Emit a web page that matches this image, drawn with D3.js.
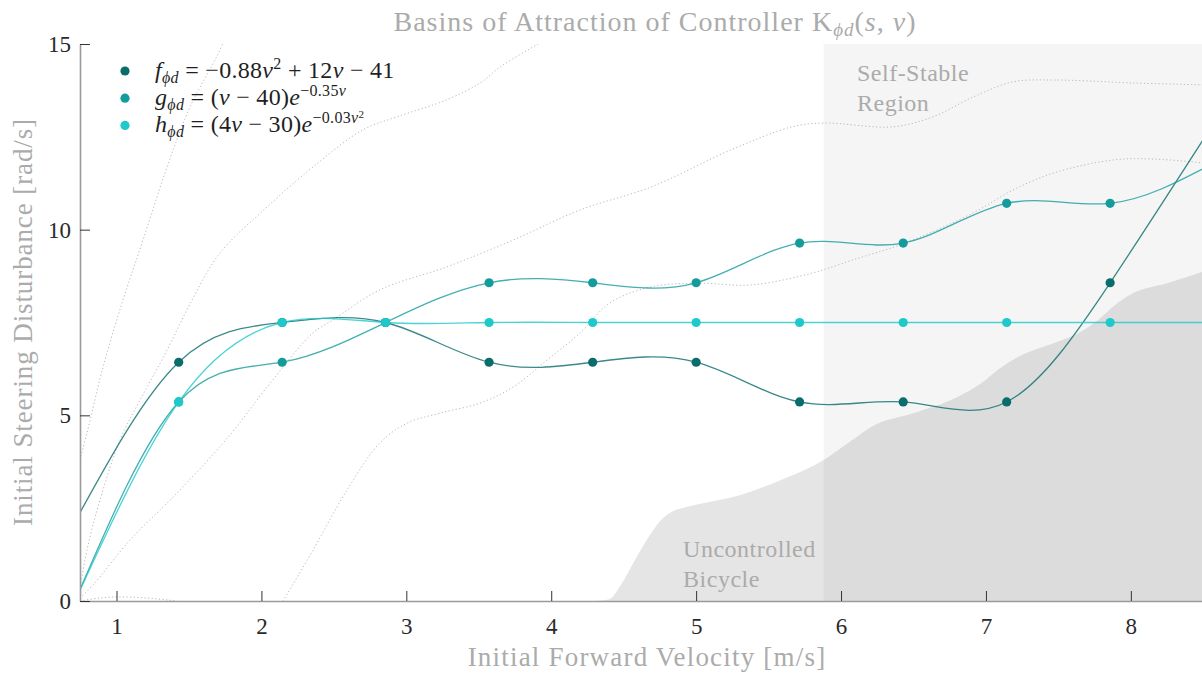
<!DOCTYPE html>
<html>
<head>
<meta charset="utf-8">
<script src="https://cdn.jsdelivr.net/npm/d3@7"></script>
<style>
  body { margin: 0; background: #fff; }
</style>
</head>
<body>
<div id="chart"></div>
<script>
var svgWidth = 1202;
var svgHeight = 673;
var serif = "Liberation Serif";

var margin = { top: 44, right: 0, bottom: 72, left: 80 };
var width = svgWidth - margin.left - margin.right;
var height = svgHeight - margin.top - margin.bottom;

// sample velocities (m/s) and the three controller curves
var velocity = [0.714, 1.429, 2.143, 2.857, 3.571, 4.286, 5.0, 5.714, 6.429, 7.143, 7.857, 8.571];
var fPhi = [2.14, 6.43, 7.50, 7.50, 6.43, 6.43, 6.43, 5.36, 5.36, 5.36, 8.57, 12.86];
var gPhi = [0.00, 5.36, 6.43, 7.50, 8.57, 8.57, 8.57, 9.64, 9.64, 10.71, 10.71, 11.79];
var hPhi = [0.00, 5.36, 7.50, 7.50, 7.50, 7.50, 7.50, 7.50, 7.50, 7.50, 7.50, 7.50];

var seriesColors = ["#0b6c6c", "#159b9b", "#1ec8cb"];

// legend text, split in pieces: [text, style]  (i = italic, sub, sup)
var legendLabels = [
  [["f", "i"], ["ϕd", "sub"], [" = −0.88", ""], ["v", "i"], ["2", "sup"], [" + 12", ""], ["v", "i"], [" − 41", ""]],
  [["g", "i"], ["ϕd", "sub"], [" = (", ""], ["v", "i"], [" − 40)", ""], ["e", "i"], ["−0.35", "sup"], ["v", "supi"]],
  [["h", "i"], ["ϕd", "sub"], [" = (4", ""], ["v", "i"], [" − 30)", ""], ["e", "i"], ["−0.03", "sup"], ["v", "supi"], ["2", "supsup"]]
];

// dotted basin boundaries
var boundA_v = [0.748, 0.796, 0.907, 1.045, 1.183, 1.349, 1.507, 1.735, 1.77];
var boundA_y = [3.80, 4.52, 6.30, 8.11, 9.72, 11.69, 13.30, 15.03, 15.6];
var boundB_v = [0.748, 0.796, 0.886, 1.024, 1.162, 1.349, 1.507, 1.714, 2.039, 2.356, 2.701, 2.936, 3.281, 3.509, 3.647, 3.923, 4.0];
var boundB_y = [0.30, 1.37, 2.72, 4.34, 5.41, 6.76, 8.0, 9.37, 10.61, 11.69, 12.69, 13.04, 13.50, 13.95, 14.38, 15.03, 15.2];
var boundC_v = [0.748, 0.838, 1.093, 1.438, 1.783, 2.039, 2.356, 2.494, 2.818, 3.281, 3.736, 4.199, 4.689, 5.241, 5.662, 5.883, 6.359, 6.635, 6.911, 7.187, 7.470, 8.022, 8.491];
var boundC_y = [0.08, 0.43, 1.64, 2.99, 4.47, 5.76, 7.22, 7.57, 8.38, 9.00, 9.72, 10.53, 11.15, 12.15, 12.77, 12.87, 12.77, 13.04, 13.57, 13.98, 14.03, 13.95, 13.90];
var boundD_v = [2.149, 2.356, 2.591, 2.818, 3.005, 3.233, 3.509, 3.736, 3.971, 4.199, 4.406, 4.689, 5.020, 5.379, 5.800, 6.076, 6.442, 6.911, 7.187, 7.470, 7.884, 8.167, 8.491];
var boundD_y = [0.00, 1.37, 2.99, 4.26, 4.79, 5.06, 5.33, 5.76, 6.49, 7.22, 8.03, 8.46, 8.56, 8.51, 8.83, 9.18, 9.64, 10.45, 11.07, 11.53, 11.88, 11.90, 11.80];
var boundE_v = [0.748, 0.886, 1.024, 1.210, 1.418];
var boundE_y = [0.00, 0.08, 0.11, 0.08, 0.00];

// uncontrolled bicycle region edge, and start of the self-stable region
var uncontrolled_v = [4.30, 4.40, 4.48, 4.57, 4.66, 4.75, 4.84, 4.92, 5.03, 5.30, 5.61, 5.88, 6.08, 6.21, 6.50, 6.80, 6.97, 7.08, 7.22, 7.47, 7.64, 7.75, 7.91, 8.02, 8.25, 8.49];
var uncontrolled_y = [0.00, 0.05, 0.43, 1.05, 1.65, 2.15, 2.42, 2.52, 2.62, 2.85, 3.30, 3.80, 4.34, 4.69, 5.06, 5.49, 5.87, 6.22, 6.57, 6.95, 7.22, 7.49, 8.03, 8.30, 8.56, 8.86];
var selfStableStart = 5.88;

var xTicks = [1, 2, 3, 4, 5, 6, 7, 8];
var yTicks = [0, 5, 10, 15];

var svg = d3.select("#chart")
  .append("svg")
  .attr("width", svgWidth)
  .attr("height", svgHeight);

var chartGroup = svg.append("g")
  .attr("transform", `translate(${margin.left}, ${margin.top})`);

var xScale = d3.scaleLinear().domain([0.748, 8.491]).range([0, width]);
var yScale = d3.scaleLinear().domain([0, 15]).range([height, 0]);

chartGroup.append("clipPath").attr("id", "plotClip")
  .append("rect").attr("width", width).attr("height", height);

var plot = chartGroup.append("g").attr("clip-path", "url(#plotClip)");

// shaded regions
plot.append("rect")
  .attr("x", xScale(selfStableStart))
  .attr("y", yScale(15))
  .attr("width", width - xScale(selfStableStart))
  .attr("height", yScale(0) - yScale(15))
  .attr("fill", "#000")
  .attr("fill-opacity", 0.04);

var uncontrolled = uncontrolled_v.map((v, i) => [v, uncontrolled_y[i]]);
uncontrolled.push([8.6, 9.0]);
plot.append("path")
  .datum(uncontrolled)
  .attr("d", d3.area()
    .x(d => xScale(d[0]))
    .y0(yScale(0))
    .y1(d => yScale(d[1]))
    .curve(d3.curveMonotoneX))
  .attr("fill", "#000")
  .attr("fill-opacity", 0.1);

// dotted boundaries
var bounds = [[boundA_v, boundA_y], [boundB_v, boundB_y], [boundC_v, boundC_y], [boundD_v, boundD_y], [boundE_v, boundE_y]];
var boundLine = d3.line()
  .x(d => xScale(d[0]))
  .y(d => yScale(d[1]))
  .curve(d3.curveCatmullRom);
bounds.forEach(function (b) {
  plot.append("path")
    .datum(b[0].map((v, i) => [v, b[1][i]]))
    .attr("d", boundLine)
    .attr("fill", "none")
    .attr("stroke", "#b8b8b8")
    .attr("stroke-width", 1)
    .attr("stroke-dasharray", "1.2,2.4");
});

// region labels
var regionText = [
  { lines: ["Self-Stable", "Region"], v: 6.11, y: 14.0 },
  { lines: ["Uncontrolled", "Bicycle"], v: 4.91, y: 1.18 }
];
regionText.forEach(function (r) {
  var t = chartGroup.append("text")
    .attr("x", xScale(r.v))
    .attr("y", yScale(r.y))
    .attr("fill", "#ababab")
    .attr("font-size", 24)
    .attr("letter-spacing", 0.5);
  r.lines.forEach(function (l, i) {
    t.append("tspan").attr("x", xScale(r.v)).attr("dy", i ? 29.5 : 0).text(l);
  });
});

// series curves and dots
var series = [fPhi, gPhi, hPhi];
var curve = d3.line()
  .x(d => xScale(d[0]))
  .y(d => yScale(d[1]))
  .curve(d3.curveNatural);
series.forEach(function (s, k) {
  plot.append("path")
    .datum(velocity.map((v, i) => [v, s[i]]))
    .attr("d", curve)
    .attr("fill", "none")
    .attr("stroke", seriesColors[k])
    .attr("stroke-opacity", 0.8)
    .attr("stroke-width", 1.3);
});
series.forEach(function (s, k) {
  plot.selectAll(".dot" + k)
    .data(velocity.map((v, i) => [v, s[i]]).filter(d => d[0] > xScale.domain()[0] && d[0] < xScale.domain()[1]))
    .enter()
    .append("circle")
    .attr("cx", d => xScale(d[0]))
    .attr("cy", d => yScale(d[1]))
    .attr("r", 4.6)
    .attr("fill", seriesColors[k]);
});

// axes
var bottomAxis = d3.axisBottom(xScale).tickValues(xTicks).tickSizeInner(-10).tickSizeOuter(0).tickPadding(17);
var leftAxis = d3.axisLeft(yScale).tickValues(yTicks).tickSizeInner(-10).tickSizeOuter(0).tickPadding(9);

var xAxisG = chartGroup.append("g")
  .attr("transform", `translate(0, ${height})`)
  .call(bottomAxis);
var yAxisG = chartGroup.append("g").call(leftAxis);

[xAxisG, yAxisG].forEach(function (g) {
  g.attr("font-size", 23);
  g.select(".domain").attr("stroke", "#9a9a9a").attr("stroke-width", 1.6);
  g.selectAll(".tick line").attr("stroke", "#333");
  g.selectAll(".tick text").attr("fill", "#2a2a2a");
});

// axis titles
svg.append("text")
  .attr("x", 647)
  .attr("y", 666)
  .attr("text-anchor", "middle")
  .attr("fill", "#ababab")
  .attr("font-size", 27)
  .attr("letter-spacing", 1.2)
  .text("Initial Forward Velocity [m/s]");

svg.append("text")
  .attr("transform", "translate(32, 322) rotate(-90)")
  .attr("text-anchor", "middle")
  .attr("fill", "#ababab")
  .attr("font-size", 27)
  .attr("letter-spacing", 0.9)
  .text("Initial Steering Disturbance [rad/s]");

// title
var title = svg.append("text")
  .attr("x", 655)
  .attr("y", 31)
  .attr("text-anchor", "middle")
  .attr("fill", "#ababab")
  .attr("font-size", 28)
  .attr("letter-spacing", 1);
title.append("tspan").text("Basins of Attraction of Controller K");
title.append("tspan").attr("font-style", "italic").attr("font-size", 19).attr("dy", 5).text("ϕd");
title.append("tspan").attr("dy", -5).text("(");
title.append("tspan").attr("font-style", "italic").text("s");
title.append("tspan").text(", ");
title.append("tspan").attr("font-style", "italic").text("v");
title.append("tspan").text(")");

// legend
var legend = chartGroup.append("g");
legendLabels.forEach(function (parts, k) {
  var yRow = 27 + k * 27.2;
  legend.append("circle")
    .attr("cx", 45)
    .attr("cy", yRow)
    .attr("r", 4.6)
    .attr("fill", seriesColors[k]);
  var t = legend.append("text")
    .attr("x", 75)
    .attr("y", yRow + 7)
    .attr("fill", "#1f1f1f")
    .attr("font-size", 24)
    .attr("letter-spacing", 0.3);
  var shift = 0;
  parts.forEach(function (p) {
    var target = 0, size = 24, italic = false;
    if (p[1] === "i") italic = true;
    if (p[1] === "sub") { target = 5; size = 16; italic = true; }
    if (p[1] === "sup") { target = -9; size = 16; }
    if (p[1] === "supi") { target = -9; size = 16; italic = true; }
    if (p[1] === "supsup") { target = -14; size = 11; }
    var span = t.append("tspan")
      .attr("dy", target - shift)
      .attr("font-size", size)
      .text(p[0]);
    if (italic) span.attr("font-style", "italic");
    shift = target;
  });
});

// every text in the serif face
svg.selectAll("text")
  .attr("font-family", serif)
  .style("font-family", "'Liberation Serif', serif");
</script>
</body>
</html>
